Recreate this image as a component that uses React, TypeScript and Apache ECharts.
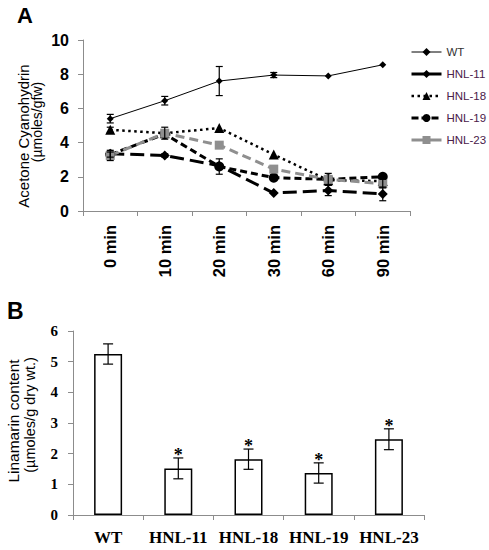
import React, { useEffect, useRef } from "react";
import * as echarts from "echarts";

const timeCategories = ["0 min", "10 min", "20 min", "30 min", "60 min", "90 min"];
const yTicksA = [0, 2, 4, 6, 8, 10];

const wtA = [5.4, 6.45, 7.6, 7.95, 7.9, 8.55];
const wtAErr = [0.25, 0.25, 0.85, 0.15, 0, 0];
const hnl11A = [3.35, 3.25, 2.65, 1.05, 1.2, 1.0];
const hnl11AErr = [0, 0.1, 0, 0, 0.3, 0.4];
const hnl18A = [4.75, 4.55, 4.85, 3.3, 1.8, 1.75];
const hnl18AErr = [0.15, 0, 0, 0, 0, 0];
const hnl19A = [3.3, 4.5, 2.6, 1.95, 1.85, 2.0];
const hnl19AErr = [0.15, 0, 0.45, 0, 0, 0];
const hnl23A = [3.25, 4.55, 3.85, 2.45, 1.85, 1.6];
const hnl23AErr = [0.3, 0.35, 0, 0, 0.35, 0.25];

const lineNames = ["WT", "HNL-11", "HNL-18", "HNL-19", "HNL-23"];

const lineCategoriesB = ["WT", "HNL-11", "HNL-18", "HNL-19", "HNL-23"];
const linamarin = [5.25, 1.52, 1.82, 1.37, 2.47];
const linamarinErr = [0.33, 0.34, 0.33, 0.33, 0.34];
const significant = [0, 1, 1, 1, 1];

const SANS = '"Liberation Sans", Arial, sans-serif';
const SERIF = '"Liberation Serif", "Times New Roman", serif';
const AXIS_GRAY = "#8c8c8c";
const LEGEND_PURPLE = "#4a2049";

function errData(vals: number[], errs: number[], flags?: number[]) {
  return vals.map((v, i) => [i, v - errs[i], v + errs[i], flags ? flags[i] : 0]);
}

function makeErrRender(capHalf: number, withStar: boolean) {
  return (params: any, api: any) => {
    const x = api.value(0);
    const lo = api.coord([x, api.value(1)]);
    const hi = api.coord([x, api.value(2)]);
    const children: any[] = [];
    const st = { stroke: "#000", lineWidth: 1.2 };
    if (Math.abs(hi[1] - lo[1]) > 0.5) {
      children.push(
        { type: "line", shape: { x1: lo[0], y1: lo[1], x2: hi[0], y2: hi[1] }, style: st },
        { type: "line", shape: { x1: hi[0] - capHalf, y1: hi[1], x2: hi[0] + capHalf, y2: hi[1] }, style: st },
        { type: "line", shape: { x1: lo[0] - capHalf, y1: lo[1], x2: lo[0] + capHalf, y2: lo[1] }, style: st }
      );
    }
    if (withStar && api.value(3)) {
      children.push({
        type: "text",
        x: hi[0],
        y: hi[1] + 6,
        style: {
          text: "*",
          font: `bold 18px ${SERIF}`,
          fill: "#000",
          textAlign: "center",
          textVerticalAlign: "bottom",
        },
      });
    }
    return { type: "group", children };
  };
}

export default function App() {
  const ref = useRef<HTMLDivElement>(null);

  useEffect(() => {
    if (!ref.current) return;
    const chart = echarts.init(ref.current, undefined, { renderer: "svg" });

    const lineDefs = [
      { name: "WT", data: wtA, err: wtAErr, symbol: "diamond", size: 7, color: "#000", width: 1, type: "solid" as any, legendType: "solid" as any },
      { name: "HNL-11", data: hnl11A, err: hnl11AErr, symbol: "diamond", size: 10, color: "#000", width: 3, type: [14, 6], legendType: "solid" as any },
      { name: "HNL-18", data: hnl18A, err: hnl18AErr, symbol: "triangle", size: 10, color: "#000", width: 2.5, type: [2.5, 3.5], legendType: [2.5, 3.5] },
      { name: "HNL-19", data: hnl19A, err: hnl19AErr, symbol: "circle", size: 10, color: "#000", width: 3, type: [7, 4], legendType: [7, 3] },
      { name: "HNL-23", data: hnl23A, err: hnl23AErr, symbol: "rect", size: 9, color: "#8f8f8f", width: 3, type: [9, 5], legendType: "solid" as any },
    ];

    const series: any[] = [];
    lineDefs.forEach((d) => {
      series.push({
        name: d.name,
        type: "line",
        xAxisIndex: 0,
        yAxisIndex: 0,
        data: d.data,
        symbol: d.symbol,
        symbolSize: d.size,
        showSymbol: true,
        itemStyle: { color: d.color },
        lineStyle: { color: d.color, width: d.width, type: d.type },
        z: 3,
      });
    });
    lineDefs.forEach((d) => {
      series.push({
        type: "custom",
        xAxisIndex: 0,
        yAxisIndex: 0,
        renderItem: makeErrRender(3.5, false),
        data: errData(d.data, d.err),
        z: 4,
        silent: true,
      });
    });

    series.push({
      type: "bar",
      xAxisIndex: 1,
      yAxisIndex: 1,
      data: linamarin,
      barWidth: 28,
      itemStyle: { color: "#fff", borderColor: "#000", borderWidth: 1.5 },
    });
    series.push({
      type: "custom",
      xAxisIndex: 1,
      yAxisIndex: 1,
      renderItem: makeErrRender(5, true),
      data: errData(linamarin, linamarinErr, significant),
      z: 4,
      silent: true,
    });

    const option: any = {
      animation: false,
      backgroundColor: "#fff",
      grid: [
        { left: 83, top: 40, width: 327, height: 171 },
        { left: 73, top: 331, width: 351, height: 184 },
      ],
      legend: {
        orient: "vertical",
        left: 410,
        top: 46,
        padding: 0,
        itemWidth: 30,
        itemHeight: 10,
        itemGap: 10,
        lineStyle: { width: "inherit" },
        textStyle: { fontFamily: SANS, fontSize: 11.5, color: LEGEND_PURPLE },
        data: lineDefs.map((d, i) => ({
          name: d.name,
          lineStyle: { width: d.width, type: d.legendType, color: d.color },
          textStyle: { color: i === 0 ? "#333" : LEGEND_PURPLE },
        })),
      },
      xAxis: [
        {
          type: "category",
          gridIndex: 0,
          data: timeCategories,
          boundaryGap: true,
          axisLine: { show: true, lineStyle: { color: AXIS_GRAY, width: 1 } },
          axisTick: { show: true, length: 5, lineStyle: { color: AXIS_GRAY } },
          axisLabel: {
            interval: 0,
            rotate: 90,
            margin: 14,
            color: "#000",
            fontFamily: SANS,
            fontWeight: "bold",
            fontSize: 16.5,
          },
        },
        {
          type: "category",
          gridIndex: 1,
          data: lineCategoriesB,
          boundaryGap: true,
          axisLine: { show: true, lineStyle: { color: AXIS_GRAY, width: 1 } },
          axisTick: { show: true, length: 5, lineStyle: { color: AXIS_GRAY } },
          axisLabel: {
            interval: 0,
            hideOverlap: false,
            margin: 14,
            color: "#000",
            fontFamily: SERIF,
            fontWeight: "bold",
            fontSize: 17,
          },
        },
      ],
      yAxis: [
        {
          type: "value",
          gridIndex: 0,
          min: yTicksA[0],
          max: yTicksA[yTicksA.length - 1],
          interval: 2,
          splitLine: { show: false },
          axisLine: { show: true, lineStyle: { color: AXIS_GRAY, width: 1 } },
          axisTick: { show: true, length: 5, lineStyle: { color: AXIS_GRAY } },
          axisLabel: {
            margin: 14,
            color: "#000",
            fontFamily: SANS,
            fontWeight: "bold",
            fontSize: 16,
          },
        },
        {
          type: "value",
          gridIndex: 1,
          min: 0,
          max: 6,
          interval: 1,
          splitLine: { show: false },
          axisLine: { show: true, lineStyle: { color: AXIS_GRAY, width: 1 } },
          axisTick: { show: true, length: 5, lineStyle: { color: AXIS_GRAY } },
          axisLabel: {
            margin: 15,
            color: "#000",
            fontFamily: SERIF,
            fontWeight: "bold",
            fontSize: 15,
          },
        },
      ],
      graphic: [
        {
          type: "text",
          left: 17,
          top: 4,
          style: { text: "A", font: `bold 22px ${SANS}`, fill: "#000" },
        },
        {
          type: "text",
          left: 7,
          top: 299,
          style: { text: "B", font: `bold 23px ${SANS}`, fill: "#000" },
        },
        {
          type: "text",
          x: 23,
          y: 136,
          rotation: Math.PI / 2,
          style: {
            text: "Acetone Cyanohydrin",
            font: `15px ${SANS}`,
            fill: "#000",
            textAlign: "center",
            textVerticalAlign: "middle",
          },
        },
        {
          type: "text",
          x: 37,
          y: 122,
          rotation: Math.PI / 2,
          style: {
            text: "(µmoles/gfw)",
            font: `14px ${SANS}`,
            fill: "#000",
            textAlign: "center",
            textVerticalAlign: "middle",
          },
        },
        {
          type: "text",
          x: 13,
          y: 421,
          rotation: Math.PI / 2,
          style: {
            text: "Linamarin content",
            font: `15.5px ${SANS}`,
            fill: "#000",
            textAlign: "center",
            textVerticalAlign: "middle",
          },
        },
        {
          type: "text",
          x: 30,
          y: 415,
          rotation: Math.PI / 2,
          style: {
            text: "(µmoles/g dry wt.)",
            font: `14.5px ${SANS}`,
            fill: "#000",
            textAlign: "center",
            textVerticalAlign: "middle",
          },
        },
      ],
      series,
    };

    chart.setOption(option);
    return () => chart.dispose();
  }, []);

  return (
    <div
      ref={ref}
      style={{ position: "absolute", left: 0, top: 0, width: 489, height: 550, background: "#fff" }}
    />
  );
}
